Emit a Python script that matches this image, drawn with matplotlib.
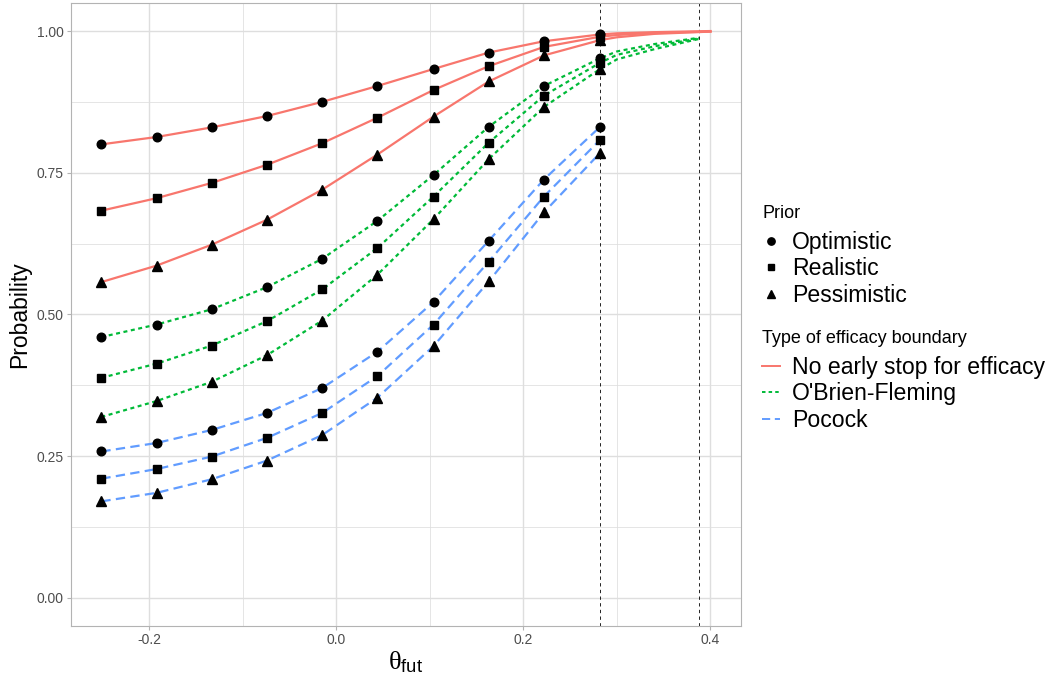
import matplotlib
matplotlib.use("Agg")
import matplotlib.pyplot as plt
from matplotlib.lines import Line2D

plt.rcParams['font.family'] = ['Liberation Sans', 'DejaVu Sans']
plt.rcParams['mathtext.fontset'] = 'custom'
plt.rcParams['mathtext.rm'] = 'Liberation Serif'
plt.rcParams['mathtext.it'] = 'Liberation Serif:italic'
plt.rcParams['mathtext.sf'] = 'Liberation Sans'

# theta_fut values where the simulations were evaluated
x_pts = [-0.251, -0.192, -0.133, -0.074, -0.015, 0.044, 0.104, 0.163, 0.222, 0.282]

# No early stop for efficacy
none_opt = [0.800, 0.813, 0.830, 0.850, 0.875, 0.903, 0.933, 0.962, 0.982, 0.994]
none_real = [0.683, 0.705, 0.732, 0.764, 0.802, 0.847, 0.896, 0.938, 0.972, 0.990]
none_pess = [0.557, 0.586, 0.623, 0.667, 0.720, 0.782, 0.849, 0.911, 0.957, 0.984]

# O'Brien-Fleming
obf_opt = [0.460, 0.482, 0.509, 0.548, 0.598, 0.665, 0.746, 0.831, 0.903, 0.952]
obf_real = [0.388, 0.413, 0.445, 0.488, 0.544, 0.617, 0.708, 0.803, 0.886, 0.944]
obf_pess = [0.319, 0.347, 0.381, 0.428, 0.489, 0.570, 0.668, 0.774, 0.866, 0.933]

# Pocock
poc_opt = [0.258, 0.273, 0.296, 0.326, 0.370, 0.434, 0.522, 0.630, 0.738, 0.831]
poc_real = [0.210, 0.227, 0.249, 0.282, 0.326, 0.391, 0.482, 0.593, 0.708, 0.808]
poc_pess = [0.170, 0.185, 0.209, 0.242, 0.287, 0.353, 0.444, 0.558, 0.680, 0.785]

# curves continue past the last evaluated point
x_tail_none = [0.30, 0.34, 0.40]
none_tail_opt = [0.996, 0.998, 1.000]
none_tail_real = [0.993, 0.997, 0.999]
none_tail_pess = [0.989, 0.995, 0.999]

x_tail_obf = [0.30, 0.34, 0.3875]
obf_tail_opt = [0.964, 0.977, 0.988]
obf_tail_real = [0.958, 0.973, 0.987]
obf_tail_pess = [0.950, 0.968, 0.986]

vlines = [0.2818, 0.3875]

priors = ['Optimistic', 'Realistic', 'Pessimistic']
boundaries = ['No early stop for efficacy', "O'Brien-Fleming", 'Pocock']

red, green, blue = '#F8766D', '#00BA38', '#619CFF'
markers = {'Optimistic': ('o', 6.2), 'Realistic': ('s', 5.8), 'Pessimistic': ('^', 6.8)}
dash_styles = {red: '-', green: (0, (1.8, 1.6)), blue: (0, (4.2, 2.4))}

fig = plt.figure(figsize=(10.56, 6.77), dpi=100)
ax = fig.add_axes([0.067, 0.0753, 0.6347, 0.9207])

ax.set_xlim(-0.2837, 0.4326)
ax.set_ylim(-0.05, 1.05)
ax.set_xticks([-0.2, 0.0, 0.2, 0.4])
ax.set_xticks([-0.1, 0.1, 0.3], minor=True)
ax.set_yticks([0, 0.25, 0.5, 0.75, 1.0])
ax.set_yticks([0.125, 0.375, 0.625, 0.875], minor=True)
ax.set_xticklabels(['-0.2', '0.0', '0.2', '0.4'])
ax.set_yticklabels(['0.00', '0.25', '0.50', '0.75', '1.00'])
ax.grid(True, which='major', color='#DEDEDE', lw=1.0)
ax.grid(True, which='minor', color='#DEDEDE', lw=0.55)
ax.set_axisbelow(True)
for s in ax.spines.values():
    s.set_color('#B3B3B3')
    s.set_linewidth(0.8)
ax.tick_params(which='major', length=3, color='#B3B3B3', labelsize=10, labelcolor='#4D4D4D', pad=2)
ax.tick_params(which='minor', length=0)

for xv in vlines:
    ax.axvline(xv, color='black', lw=0.6, ls=(0, (4, 4)), zorder=1)

groups = [
    (red, [none_opt, none_real, none_pess], x_tail_none, [none_tail_opt, none_tail_real, none_tail_pess]),
    (green, [obf_opt, obf_real, obf_pess], x_tail_obf, [obf_tail_opt, obf_tail_real, obf_tail_pess]),
    (blue, [poc_opt, poc_real, poc_pess], [], [[], [], []]),
]

for col, series, xt, tails in groups:
    for vals, tail in zip(series, tails):
        ax.plot(x_pts + xt, vals + tail, color=col, lw=1.6, ls=dash_styles[col], zorder=2)

for col, series, xt, tails in groups:
    for prior, vals in zip(priors, series):
        m, ms = markers[prior]
        ax.plot(x_pts, vals, ls='none', marker=m, ms=ms, color='black', zorder=3)

ax.set_ylabel('Probability', fontsize=16.5, labelpad=4)
ax.set_xlabel(r'$\mathrm{\theta}_{\mathsf{fut}}$', fontsize=19, labelpad=2)

# legends (titles drawn separately to get ggplot-like spacing)
leg_x = 762 / 1056
fig.text(leg_x, 1 - 214 / 677, 'Prior', fontsize=13, va='center', ha='left')
fig.text(leg_x, 1 - 338 / 677, 'Type of efficacy boundary', fontsize=13, va='center', ha='left')

prior_handles = [Line2D([], [], ls='none', marker=markers[p][0], ms=markers[p][1] * 0.85, color='black')
                 for p in priors]
bound_handles = [Line2D([], [], color=c, lw=1.4, ls=dash_styles[c]) for c in [red, green, blue]]

leg_kw = dict(loc='upper left', bbox_transform=fig.transFigure, frameon=False, fontsize=16.6,
              handlelength=0.78, handletextpad=0.52, labelspacing=0.15, borderaxespad=0, borderpad=0)

leg1 = ax.legend(prior_handles, priors, bbox_to_anchor=(leg_x, 1 - 231 / 677), **leg_kw)
ax.add_artist(leg1)
leg2 = ax.legend(bound_handles, boundaries, bbox_to_anchor=(leg_x, 1 - 356 / 677), **leg_kw)

fig.savefig('out.png', dpi=100)
